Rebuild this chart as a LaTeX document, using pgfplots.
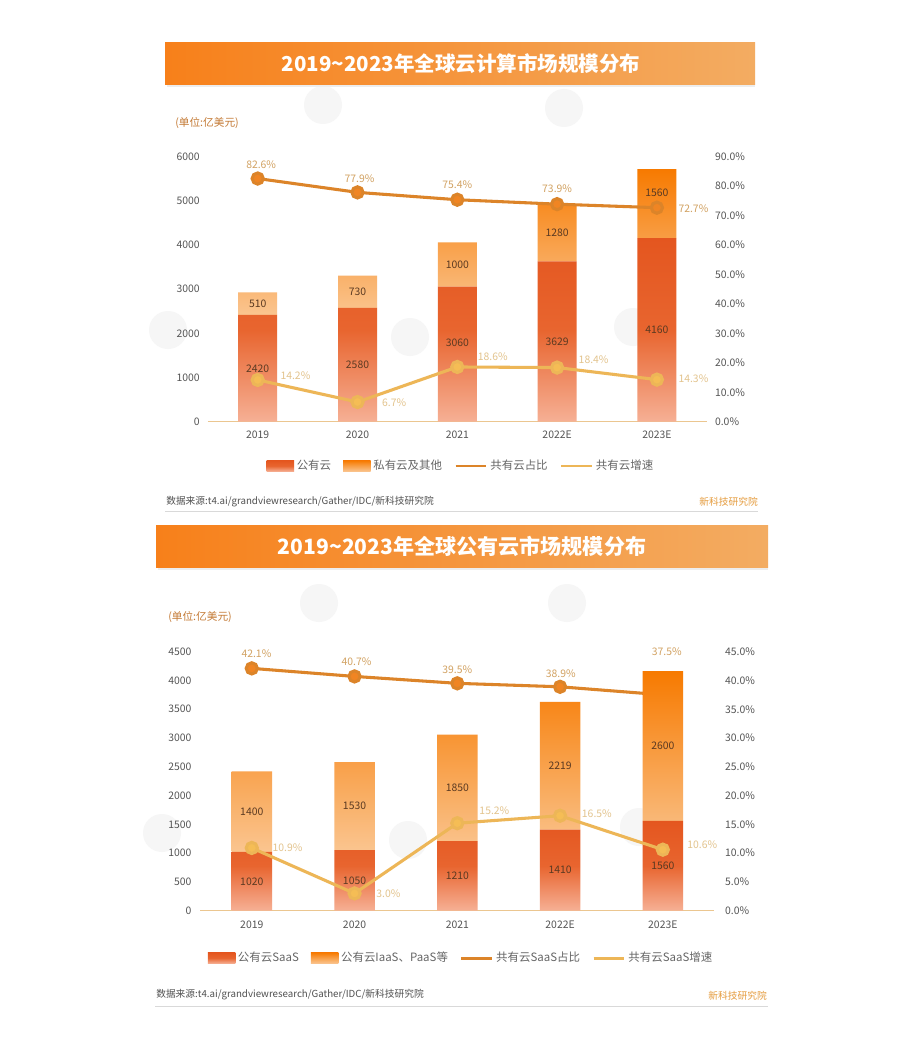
\documentclass[border=0pt]{standalone}
\usepackage{fontspec}
\setmainfont{Noto Sans CJK SC}
\usepackage{pgfplots}
\usepackage{pgfplotstable}
\pgfplotsset{compat=1.18}

\definecolor{bandL}{HTML}{F7801A}
\definecolor{bandR}{HTML}{F3AC62}
\definecolor{pubTop}{HTML}{E4561F}
\definecolor{pubMid}{HTML}{E8652F}
\definecolor{pubBot}{HTML}{F6B095}
\definecolor{priTop}{HTML}{F77A00}
\definecolor{priBot}{HTML}{FAC590}
\definecolor{shareLine}{HTML}{DC8429}
\definecolor{shareMark}{HTML}{F08523}
\definecolor{growLine}{HTML}{EDB657}
\definecolor{growMark}{HTML}{F5BD55}
\definecolor{sharePct}{HTML}{D2A262}
\definecolor{growPct}{HTML}{E3C48E}
\definecolor{barText}{HTML}{5B3A22}
\definecolor{tickC}{HTML}{555555}
\definecolor{legC}{HTML}{666666}
\definecolor{axisLine}{HTML}{EBC690}
\definecolor{unitC}{HTML}{C47A35}
\definecolor{srcC}{HTML}{505050}
\definecolor{brandC}{HTML}{E59B3C}
\definecolor{wmC}{HTML}{F6F6F6}

\newcommand{\tickfont}{\fontsize{7.8pt}{9pt}\selectfont}
\newcommand{\legfont}{\fontsize{8.6pt}{10pt}\selectfont}

% ---------- data ----------
\pgfplotstableread{
x pub pri pdy qdy
0 2420 510 0 0
1 2580 730 0 0
2 3060 1000 8.25 0
3 3629 1280 0 0
4 4160 1560 0 8.25
}\cloud
\pgfplotstableread{
x share sdx sdy grow gdx gdy
0 82.6 2.6 10.3 14.2 28.3 3.2
1 77.9 1.5 10.6 6.7 27.5 -0.5
2 75.4 0 11.1 18.6 26.6 7.6
3 73.9 0 11.4 18.4 27.4 5.6
4 72.7 27.4 -0.5 14.3 27.4 0.5
}\cloudpct
\pgfplotstableread{
x saas other pdy qdy
0 1020 1400 0 0
1 1050 1530 0 0
2 1210 1850 0 0
3 1410 2219 0 0
4 1560 2600 0 0
}\pub
\pgfplotstableread{
x share sdx sdy grow gdx gdy
0 42.1 3.5 10.8 10.9 26.8 0
1 40.7 1.5 11 3.0 25.4 -0.5
2 39.5 0 10 15.2 27.8 9.2
3 38.9 0.5 9.6 16.5 27.6 1.8
4 37.5 3 32 10.6 29.6 3.5
}\pubpct

\pgfplotsset{
  base/.style={scale only axis, xmin=-0.5, xmax=4.5, clip=false,
    /pgf/number format/assume math mode=true, /pgf/number format/1000 sep={},
    major tick length=0pt, tick style={draw=none},
    ticklabel style={font=\tickfont, text=tickC}},
  P1/.style={base, at={(155.85pt,-316.3pt)}, anchor=south west, width=374.25pt, height=198.75pt},
  P2/.style={base, at={(150.3pt,-683.0pt)}, anchor=south west, width=385.35pt, height=194.25pt},
  pubS/.style={draw=none, top color=pubTop, bottom color=pubBot, middle color=pubMid},
  priS/.style={draw=none, top color=priTop, bottom color=priBot},
  shareS/.style={color=shareLine, line width=2.3pt, mark=*, mark size=4.2pt,
    mark options={solid, fill=shareMark, draw=none}},
  growS/.style={color=growLine, line width=2.3pt, mark=*, mark size=4.2pt,
    mark options={solid, fill=growMark, draw=none}},
  labS/.style={only marks, mark=none,
    point meta=explicit symbolic, forget plot,
    nodes near coords style={anchor=center, inner sep=0pt, xshift=\dx pt, yshift=\dy pt, font=\tickfont}},
  barleg/.style={legend image code/.code={\path[##1] (0pt,-4.1pt) rectangle (20.6pt,4.1pt);}},
  lineleg/.style={legend image code/.code={\draw[##1] (0pt,0pt) -- (23pt,0pt);}},
  legS/.style={legend style={anchor=center, draw=none, fill=none, inner sep=0pt,
    legend columns=4, font=\legfont, text=legC,
    /tikz/every even column/.append style={column sep=7pt}}, legend cell align=left},
}

\begin{document}
\begin{tikzpicture}
\path[use as bounding box, fill=white] (0pt,0pt) rectangle (690pt,-789pt);
\begin{scope}[x=0.75pt,y=-0.75pt]
  % faint watermark discs
  \foreach \wx/\wy in {323/105, 564/108, 168/330, 410/337, 633/327, 319/603, 567/603, 162/833, 408/840, 639/827}{
    \fill[wmC] (\wx,\wy) circle[radius=19];
  }
  % panel 1 header
  \fill[black!7] (167,85) rectangle (755,87.5);
  \shade[left color=bandL, right color=bandR] (165,43) rectangle (755,85);
  \node[text=white, font=\fontsize{15.4pt}{18pt}\selectfont\bfseries] at (461,64) {2019\textasciitilde2023年全球云计算市场规模分布};
  \node[anchor=west, inner sep=0pt, text=unitC, font=\fontsize{8pt}{10pt}\selectfont] at (175,123) {(单位:亿美元)};
  \node[anchor=west, inner sep=0pt, text=srcC, font=\fontsize{7.3pt}{9pt}\selectfont] at (166,501.7) {数据来源:t4.ai/grandviewresearch/Gather/IDC/新科技研究院};
  \node[anchor=east, inner sep=0pt, text=brandC, font=\fontsize{7.3pt}{9pt}\selectfont] at (758,501.7) {新科技研究院};
  \draw[black!15, line width=0.5pt] (165,511) -- (758,511);
  % panel 2 header
  \fill[black!7] (158,567) rectangle (768,569.5);
  \shade[left color=bandL, right color=bandR] (156,525) rectangle (768,567);
  \node[text=white, font=\fontsize{15.8pt}{18pt}\selectfont\bfseries] at (462,546) {2019\textasciitilde2023年全球公有云市场规模分布};
  \node[anchor=west, inner sep=0pt, text=unitC, font=\fontsize{8pt}{10pt}\selectfont] at (168,617) {(单位:亿美元)};
  \node[anchor=west, inner sep=0pt, text=srcC, font=\fontsize{7.3pt}{9pt}\selectfont] at (156,995) {数据来源:t4.ai/grandviewresearch/Gather/IDC/新科技研究院};
  \node[anchor=east, inner sep=0pt, text=brandC, font=\fontsize{7.3pt}{9pt}\selectfont] at (767,996) {新科技研究院};
  \draw[black!15, line width=0.5pt] (155,1006) -- (768,1006);
\end{scope}

% ================= PANEL 1 =================
\begin{axis}[P1, ybar stacked, bar width=29.25pt, ymin=0, ymax=6000,
  separate axis lines, axis x line*=bottom, axis y line*=left,
  x axis line style={draw=axisLine, line width=0.9pt, -}, y axis line style={draw=none},
  ytick={0,1000,...,6000}, xtick={0,1,2,3,4}, xticklabels={2019,2020,2021,2022E,2023E},
  yticklabel style={inner sep=0pt, xshift=-5.9pt},
  xticklabel style={inner sep=0pt, yshift=-7pt}]
  \addplot[pubS] table[x=x, y=pub] {\cloud};
  \addplot[priS] table[x=x, y=pri] {\cloud};
\end{axis}
\begin{axis}[P1, hide axis, ymin=0, ymax=6000]
  \addplot[labS, nodes near coords={\pgfplotspointmeta},
    visualization depends on={0 \as \dx}, visualization depends on={\thisrow{pdy} \as \dy},
    every node near coord/.append style={text=barText}]
    table[x=x, y expr=0.5*\thisrow{pub}, meta=pub] {\cloud};
  \addplot[labS, nodes near coords={\pgfplotspointmeta},
    visualization depends on={0 \as \dx}, visualization depends on={\thisrow{qdy} \as \dy},
    every node near coord/.append style={text=barText}]
    table[x=x, y expr=\thisrow{pub}+0.5*\thisrow{pri}, meta=pri] {\cloud};
\end{axis}
\begin{axis}[P1, ymin=0, ymax=90, axis x line=none, axis y line*=right,
  y axis line style={draw=none},
  ytick={0,10,...,90},
  yticklabel={\pgfmathprintnumber[fixed,fixed zerofill,precision=1]{\tick}\%},
  yticklabel style={inner sep=0pt, xshift=6pt, anchor=west},
  legS, legend style={at={(0.508,-0.167)}}]
  \addlegendimage{barleg, pubS}
  \addlegendimage{barleg, priS}
  \addlegendimage{lineleg, color=shareLine, line width=2.2pt}
  \addlegendimage{lineleg, color=growLine, line width=2.2pt}
  \addplot[shareS, forget plot] table[x=x, y=share] {\cloudpct};
  \addplot[growS, forget plot] table[x=x, y=grow] {\cloudpct};
  \addplot[labS, nodes near coords={\pgfplotspointmeta\%},
    visualization depends on={\thisrow{sdx} \as \dx}, visualization depends on={\thisrow{sdy} \as \dy},
    every node near coord/.append style={text=sharePct}]
    table[x=x, y=share, meta=share] {\cloudpct};
  \addplot[labS, nodes near coords={\pgfplotspointmeta\%},
    visualization depends on={\thisrow{gdx} \as \dx}, visualization depends on={\thisrow{gdy} \as \dy},
    every node near coord/.append style={text=growPct}]
    table[x=x, y=grow, meta=grow] {\cloudpct};
  \legend{公有云,私有云及其他,共有云占比,共有云增速}
\end{axis}

% ================= PANEL 2 =================
\begin{axis}[P2, hide axis, ymin=0, ymax=45]
  \addplot[shareS] table[x=x, y=share] {\pubpct};
\end{axis}
\begin{axis}[P2, ybar stacked, bar width=30.4pt, ymin=0, ymax=4500,
  separate axis lines, axis x line*=bottom, axis y line*=left,
  x axis line style={draw=axisLine, line width=0.9pt, -}, y axis line style={draw=none},
  ytick={0,500,...,4500}, xtick={0,1,2,3,4}, xticklabels={2019,2020,2021,2022E,2023E},
  yticklabel style={inner sep=0pt, xshift=-6.5pt},
  xticklabel style={inner sep=0pt, yshift=-7.8pt}]
  \addplot[pubS] table[x=x, y=saas] {\pub};
  \addplot[priS] table[x=x, y=other] {\pub};
\end{axis}
\begin{axis}[P2, hide axis, ymin=0, ymax=4500]
  \addplot[labS, nodes near coords={\pgfplotspointmeta},
    visualization depends on={0 \as \dx}, visualization depends on={\thisrow{pdy} \as \dy},
    every node near coord/.append style={text=barText}]
    table[x=x, y expr=0.5*\thisrow{saas}, meta=saas] {\pub};
  \addplot[labS, nodes near coords={\pgfplotspointmeta},
    visualization depends on={0 \as \dx}, visualization depends on={\thisrow{qdy} \as \dy},
    every node near coord/.append style={text=barText}]
    table[x=x, y expr=\thisrow{saas}+0.5*\thisrow{other}, meta=other] {\pub};
\end{axis}
\begin{axis}[P2, ymin=0, ymax=45, axis x line=none, axis y line*=right,
  y axis line style={draw=none},
  ytick={0,5,...,45},
  yticklabel={\pgfmathprintnumber[fixed,fixed zerofill,precision=1]{\tick}\%},
  yticklabel style={inner sep=0pt, xshift=8pt, anchor=west},
  legS, legend style={at={(0.508,-0.183)}}]
  \addlegendimage{barleg, pubS}
  \addlegendimage{barleg, priS}
  \addlegendimage{lineleg, color=shareLine, line width=2.2pt}
  \addlegendimage{lineleg, color=growLine, line width=2.2pt}
  \addplot[growS, forget plot] table[x=x, y=grow] {\pubpct};
  \addplot[labS, nodes near coords={\pgfplotspointmeta\%},
    visualization depends on={\thisrow{sdx} \as \dx}, visualization depends on={\thisrow{sdy} \as \dy},
    every node near coord/.append style={text=sharePct}]
    table[x=x, y=share, meta=share] {\pubpct};
  \addplot[labS, nodes near coords={\pgfplotspointmeta\%},
    visualization depends on={\thisrow{gdx} \as \dx}, visualization depends on={\thisrow{gdy} \as \dy},
    every node near coord/.append style={text=growPct}]
    table[x=x, y=grow, meta=grow] {\pubpct};
  \legend{公有云SaaS,公有云IaaS、PaaS等,共有云SaaS占比,共有云SaaS增速}
\end{axis}
\end{tikzpicture}
\end{document}
